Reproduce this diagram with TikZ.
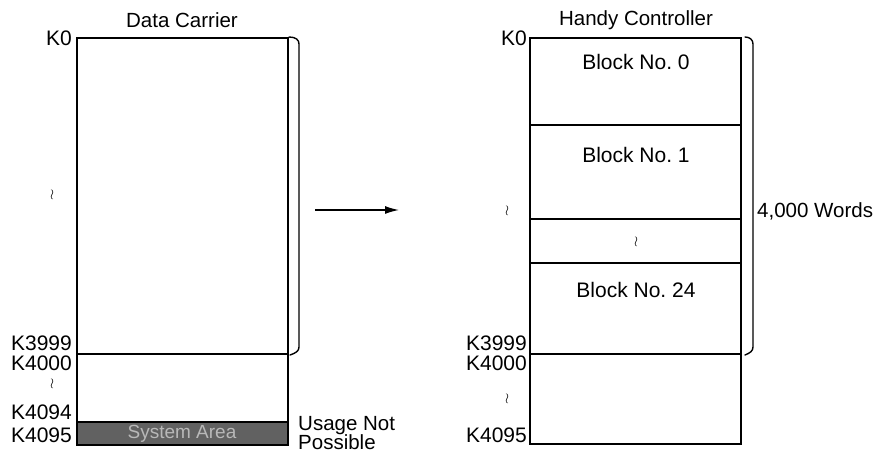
\documentclass[tikz,border=0pt]{standalone}
\usepackage{fontspec}
\setmainfont{Liberation Sans}
\usetikzlibrary{arrows.meta}

\begin{document}
\begin{tikzpicture}[
    x=1pt,y=-1pt,
    line/.style={line width=1.6pt,line cap=round},
    area/.style={draw,line width=1.6pt},
    sysarea/.style={fill=black!62,draw=black,line width=1.6pt},
    brace/.style={line width=1.4pt,line cap=round},
    move/.style={-{Latex[length=14pt,width=8pt]},line width=1.4pt},
    addr/.style={font=\fontsize{21}{23}\selectfont,anchor=east,inner sep=0pt},
    gap/.style={font=\Large,inner sep=0pt},
    title/.style={font=\fontsize{20.5}{23}\selectfont,inner sep=1pt},
    blocklabel/.style={font=\fontsize{21}{23}\selectfont,inner sep=1pt}
]
\useasboundingbox (0,0) rectangle (881,454);

% Data carrier
\begin{scope}
  \node[title] (dctitle) at (182,20) {Data Carrier};
  \draw[area] (77,38) rectangle (288,445);
  \draw[line] (77,354) -- (288,354);
  \draw[sysarea] (77,422) rectangle (288,445);
  \node[font=\fontsize{19}{21}\selectfont,text=black!28] (sys) at (182,434) {System Area};

  \node[addr] (dk0) at (72,38) {K0};
  \node[gap] (dgap1) at (52,195) {$\wr$};
  \node[addr] (dk3999) at (72,343) {K3999};
  \node[addr] (dk4000) at (72,363) {K4000};
  \node[gap] (dgap2) at (52,384) {$\wr$};
  \node[addr] (dk4094) at (72,412) {K4094};
  \node[addr] (dk4095) at (72,435) {K4095};

  \draw[brace] (289,37) .. controls (296,37) and (299,40) .. (299,44)
    -- (299,347) .. controls (299,351) and (296,353) .. (290,355);

  \node[title,anchor=west,align=left] (usage) at (297,433)
    {Usage Not\\[-4pt]Possible};
\end{scope}

% transfer arrow
\coordinate (from) at (315,210);
\coordinate (to) at (399,210);
\draw[move] (from) -- (to);

% Handy controller
\begin{scope}
  \node[title] (hctitle) at (636,20) {Handy Controller};
  \draw[area] (530,38) rectangle (741,444);
  \foreach \y in {125,219,263,354}
    \draw[line] (530,\y) -- (741,\y);

  \node[blocklabel] (blk0) at (636,62) {Block No.\ 0};
  \node[blocklabel] (blk1) at (636,155) {Block No.\ 1};
  \node[gap] (hgap) at (636,242) {$\wr$};
  \node[blocklabel] (blk24) at (636,290) {Block No.\ 24};

  \node[addr] (hk0) at (527,38) {K0};
  \node[gap] (hgap1) at (507,211) {$\wr$};
  \node[addr] (hk3999) at (527,343) {K3999};
  \node[addr] (hk4000) at (527,363) {K4000};
  \node[gap] (hgap2) at (507,399) {$\wr$};
  \node[addr] (hk4095) at (527,435) {K4095};

  \draw[brace] (745,37) .. controls (750,37) and (753,40) .. (753,44)
    -- (753,347) .. controls (753,351) and (750,353) .. (745,355);

  \node[title,anchor=west] (words) at (756,211) {4,000 Words};
\end{scope}
\end{tikzpicture}
\end{document}
